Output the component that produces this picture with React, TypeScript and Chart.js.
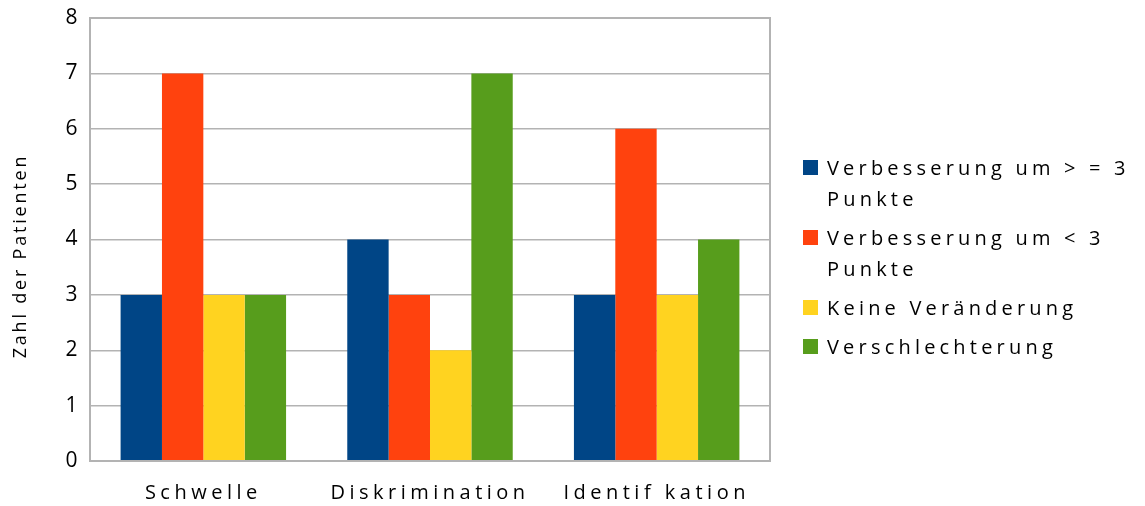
import React, { useEffect, useRef } from "react";
import { Chart, registerables } from "chart.js";

Chart.register(...registerables);

const categories = ["Schwelle", "Diskrimination", "Identif kation"];
const seriesLabels = [
  ["Verbesserung um > = 3", "Punkte"],
  ["Verbesserung um < 3", "Punkte"],
  ["Keine Veränderung"],
  ["Verschlechterung"],
];
const seriesColors = ["#004586", "#ff420e", "#ffd320", "#579d1c"];
const improvedAtLeast3 = [3, 4, 3];
const improvedLessThan3 = [7, 3, 6];
const unchanged = [3, 2, 3];
const worsened = [3, 7, 4];
const yTicks = [0, 1, 2, 3, 4, 5, 6, 7, 8];
const yTitle = "Zahl der Patienten";

const FONT = "'Open Sans', Lato, sans-serif";
const GRID = "#b3b3b3";

// Wide tracking for the axis text, a frame round the plot area, and the rotated y title.
const trackingAndFrame = {
  id: "trackingAndFrame",
  beforeLayout(chart: any) {
    chart.ctx.letterSpacing = "4.5px";
  },
  beforeDraw(chart: any) {
    chart.ctx.letterSpacing = "4.5px";
  },
  afterDatasetsDraw(chart: any) {
    const { ctx, chartArea: a } = chart;
    ctx.save();
    ctx.strokeStyle = GRID;
    ctx.lineWidth = 2;
    ctx.strokeRect(a.left, a.top, a.right - a.left, a.bottom - a.top);
    ctx.restore();
  },
  afterDraw(chart: any) {
    const { ctx } = chart;
    ctx.save();
    ctx.letterSpacing = "2.8px";
    ctx.font = `18px ${FONT}`;
    ctx.fillStyle = "#000";
    ctx.textAlign = "center";
    ctx.textBaseline = "middle";
    ctx.translate(21, 256);
    ctx.rotate(-Math.PI / 2);
    ctx.fillText(yTitle, 0, 0);
    ctx.restore();
  },
};

export default function App() {
  const canvasRef = useRef<HTMLCanvasElement>(null);

  useEffect(() => {
    if (!canvasRef.current) return;
    const values = [improvedAtLeast3, improvedLessThan3, unchanged, worsened];
    const chart = new Chart(canvasRef.current, {
      type: "bar",
      data: {
        labels: categories,
        datasets: values.map((v, i) => ({
          label: seriesLabels[i].join(" "),
          data: v,
          backgroundColor: seriesColors[i],
          borderWidth: 0,
          barPercentage: 1,
          categoryPercentage: 0.73,
        })),
      },
      options: {
        animation: false,
        responsive: true,
        maintainAspectRatio: false,
        layout: { padding: { left: 0, right: 375, top: 18, bottom: 0 } },
        plugins: { legend: { display: false }, tooltip: { enabled: false } },
        scales: {
          x: {
            grid: { display: false, drawTicks: false },
            border: { display: false },
            ticks: { color: "#000", font: { family: FONT, size: 20 }, padding: 20 },
            afterFit(scale: any) {
              scale.height = 45;
            },
          },
          y: {
            min: 0,
            max: 8,
            afterBuildTicks(scale: any) {
              scale.ticks = yTicks.map((value) => ({ value }));
            },
            grid: { color: GRID, lineWidth: 1.5, drawTicks: false },
            border: { display: false },
            ticks: { color: "#000", font: { family: FONT, size: 21 }, padding: 8 },
            afterFit(scale: any) {
              scale.width = 90;
              scale.paddingTop = 0;
              scale.paddingBottom = 0;
            },
          },
        },
      },
      plugins: [trackingAndFrame],
    });
    return () => chart.destroy();
  }, []);

  return (
    <div style={{ position: "fixed", left: 0, top: 0, width: 1145, height: 506, background: "#fff" }}>
      <canvas ref={canvasRef} />
      <div
        style={{
          position: "absolute",
          left: 803,
          top: 152,
          display: "flex",
          flexDirection: "column",
          gap: 8,
          fontFamily: FONT,
          fontSize: 20,
          letterSpacing: "4.2px",
          lineHeight: "31px",
          color: "#000",
        }}
      >
        {seriesLabels.map((lines, i) => (
          <div key={i} style={{ display: "flex", alignItems: "flex-start" }}>
            <span
              style={{
                width: 15,
                height: 15,
                marginTop: 8,
                marginRight: 9,
                background: seriesColors[i],
                flex: "none",
              }}
            />
            <span style={{ whiteSpace: "nowrap" }}>
              {lines.map((l, j) => (
                <div key={j}>{l}</div>
              ))}
            </span>
          </div>
        ))}
      </div>
    </div>
  );
}
